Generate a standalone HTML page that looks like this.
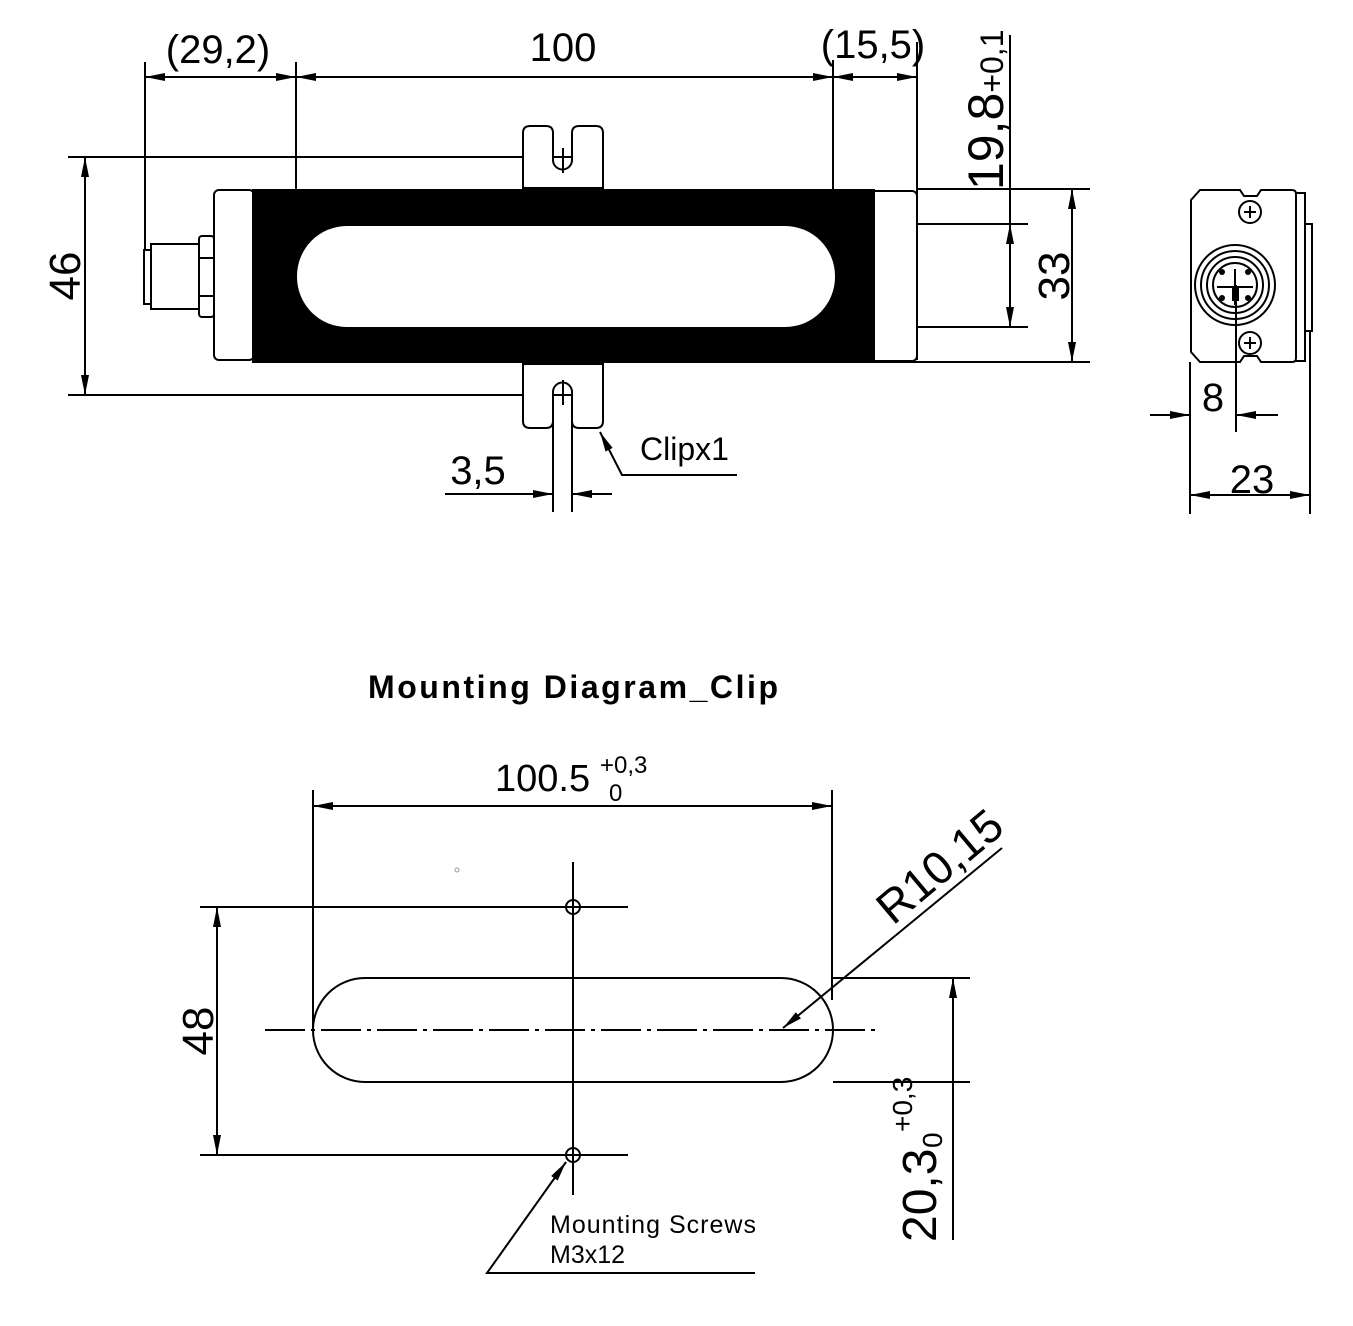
<!DOCTYPE html>
<html><head><meta charset="utf-8"><style>
html,body{margin:0;padding:0;background:#fff;}
svg{display:block;font-family:"Liberation Sans",sans-serif;}
</style></head><body>
<svg width="1353" height="1326" viewBox="0 0 1353 1326" xmlns="http://www.w3.org/2000/svg">
<defs>
<marker id="a" viewBox="0 0 20 8" refX="20" refY="4" markerWidth="20" markerHeight="8" markerUnits="userSpaceOnUse" orient="auto-start-reverse"><path d="M0,0 L20,4 L0,8 Z" fill="#000"/></marker>
</defs>
<g stroke="#000" stroke-width="2" fill="none">
<line x1="145" y1="62" x2="145" y2="250"/>
<line x1="296" y1="62" x2="296" y2="192"/>
<line x1="833" y1="60" x2="833" y2="192"/>
<line x1="917" y1="42" x2="917" y2="360"/>
<line x1="145" y1="77" x2="296" y2="77" marker-start="url(#a)" marker-end="url(#a)"/>
<line x1="296" y1="77" x2="833" y2="77" marker-start="url(#a)" marker-end="url(#a)"/>
<line x1="833" y1="77" x2="917" y2="77" marker-start="url(#a)" marker-end="url(#a)"/>
<line x1="68" y1="157" x2="578" y2="157"/>
<line x1="68" y1="395" x2="578" y2="395"/>
<line x1="85" y1="157" x2="85" y2="395" marker-start="url(#a)" marker-end="url(#a)"/>
<path d="M523,188 V133 Q523,126 530,126 H546 Q553,126 553,133 V160 A9.5,9.5 0 0 0 572,160 V133 Q572,126 579,126 H596 Q603,126 603,133 V188 Z" fill="#fff"/>
<path d="M523,364 V421 Q523,428 530,428 H546 Q553,428 553,421 V392 A9.5,9.5 0 0 1 572,392 V421 Q572,428 579,428 H596 Q603,428 603,421 V364 Z" fill="#fff"/>
<line x1="563" y1="148" x2="563" y2="173"/>
<line x1="563" y1="380" x2="563" y2="405"/>
<line x1="553" y1="400" x2="553" y2="512"/>
<line x1="572" y1="400" x2="572" y2="512"/>
<line x1="445" y1="494" x2="553" y2="494" marker-end="url(#a)"/>
<line x1="612" y1="494" x2="572" y2="494" marker-end="url(#a)"/>
<polyline points="737,475 622,475 600,432" marker-end="url(#a)"/>
<line x1="917" y1="189" x2="1090" y2="189"/>
<line x1="873" y1="362" x2="1090" y2="362"/>
<line x1="880" y1="224" x2="1028" y2="224"/>
<line x1="880" y1="327" x2="1028" y2="327"/>
<line x1="1072" y1="189" x2="1072" y2="362" marker-start="url(#a)" marker-end="url(#a)"/>
<line x1="1010" y1="35" x2="1010" y2="224"/>
<line x1="1010" y1="224" x2="1010" y2="327" marker-start="url(#a)" marker-end="url(#a)"/>
</g>
<rect x="214" y="190" width="40" height="170" rx="5" fill="#fff" stroke="#000" stroke-width="2"/>
<rect x="870" y="191" width="47" height="170" rx="5" fill="#fff" stroke="#000" stroke-width="2"/>
<rect x="252" y="189" width="623" height="174" fill="#000"/>
<rect x="297" y="226" width="538" height="101" rx="50" fill="#fff"/>
<g fill="#fff" stroke="#000" stroke-width="2">
<rect x="144" y="250" width="8" height="54"/>
<rect x="151" y="244" width="48" height="65"/>
<rect x="199" y="236" width="15" height="81" rx="3"/>
<line x1="199" y1="258" x2="214" y2="258"/><line x1="199" y1="296" x2="214" y2="296"/>
</g>
<g stroke="#000" stroke-width="2" fill="#fff">
<rect x="1293" y="193" width="12" height="168"/>
<rect x="1305" y="224" width="7" height="107"/>
<path d="M1200,190 H1240 L1244,196 H1257 L1261,190 H1292 Q1296,190 1296,194 V358 Q1296,362 1292,362 H1261 L1257,356 H1244 L1240,362 H1200 L1191,352 V200 Z"/>
<circle cx="1235" cy="285" r="40"/>
<circle cx="1235" cy="285" r="34"/>
<circle cx="1235" cy="285" r="28"/>
<circle cx="1235" cy="285" r="22"/>
<circle cx="1250" cy="212" r="11"/>
<circle cx="1250" cy="343" r="11"/>
</g>
<g fill="#000"><circle cx="1222" cy="272" r="3"/><circle cx="1248" cy="272" r="3"/><circle cx="1222" cy="298" r="3"/><circle cx="1248" cy="298" r="3"/><rect x="1232" y="287" width="7" height="14"/></g>
<g stroke="#000" stroke-width="2" fill="none">
<path d="M1244,212 h12 M1250,206 v12 M1244,343 h12 M1250,337 v12"/>
<path d="M1217,287 h36 M1235,269 v36"/>
<line x1="1236" y1="285" x2="1236" y2="432"/>
<line x1="1150" y1="415" x2="1190" y2="415" marker-end="url(#a)"/>
<line x1="1278" y1="415" x2="1236" y2="415" marker-end="url(#a)"/>
<line x1="1190" y1="362" x2="1190" y2="514"/>
<line x1="1310" y1="331" x2="1310" y2="514"/>
<line x1="1190" y1="495" x2="1310" y2="495" marker-start="url(#a)" marker-end="url(#a)"/>
</g>
<g font-size="40" fill="#000">
<text x="218" y="63" text-anchor="middle">(29,2)</text>
<text x="563" y="61" text-anchor="middle">100</text>
<text x="873" y="58" text-anchor="middle">(15,5)</text>
<text x="478" y="484" text-anchor="middle">3,5</text>
<text x="1213" y="411" text-anchor="middle">8</text>
<text x="1252" y="493" text-anchor="middle">23</text>
<text transform="translate(80,276) rotate(-90)" text-anchor="middle" font-size="44">46</text>
<text transform="translate(1069,276) rotate(-90)" text-anchor="middle" font-size="44">33</text>
<text transform="translate(1003,190) rotate(-90)" font-size="50">19,8<tspan font-size="32">+0,1</tspan></text>
</g>
<text x="640" y="460" font-size="32">Clipx1</text>
<text x="368" y="698" font-size="32" font-weight="bold" textLength="410">Mounting Diagram_Clip</text>
<text x="495" y="791" font-size="38">100.5</text>
<text x="600" y="773" font-size="24">+0,3</text>
<text x="609" y="801" font-size="24">0</text>
<g stroke="#000" stroke-width="2" fill="none">
<line x1="313" y1="790" x2="313" y2="1030"/>
<line x1="832" y1="790" x2="832" y2="1000"/>
<line x1="313" y1="806" x2="832" y2="806" marker-start="url(#a)" marker-end="url(#a)"/>
<rect x="313" y="978" width="520" height="104" rx="52"/>
<line x1="833" y1="978" x2="970" y2="978"/>
<line x1="833" y1="1082" x2="970" y2="1082"/>
<line x1="953" y1="978" x2="953" y2="1240" marker-start="url(#a)"/>
<line x1="265" y1="1030" x2="880" y2="1030" stroke-dasharray="40,6,4,6"/>
<line x1="573" y1="862" x2="573" y2="1195"/>
<circle cx="573" cy="907" r="7"/>
<circle cx="573" cy="1155" r="7"/>
<line x1="200" y1="907" x2="628" y2="907"/>
<line x1="200" y1="1155" x2="628" y2="1155"/>
<line x1="217" y1="907" x2="217" y2="1155" marker-start="url(#a)" marker-end="url(#a)"/>
<line x1="1002" y1="848" x2="783" y2="1028" marker-end="url(#a)"/>
<polyline points="755,1273 487,1273 566,1162" marker-end="url(#a)"/>
<circle cx="457" cy="870" r="2" stroke="#999" stroke-width="1"/>
</g>
<g font-size="40" fill="#000">
<text transform="translate(213,1031) rotate(-90)" text-anchor="middle" font-size="44">48</text>
<text transform="translate(893,926) rotate(-40)" font-size="46">R10,15</text>
<text transform="translate(936,1242) rotate(-90)" font-size="48">20,3</text>
</g>
<text transform="translate(912,1132) rotate(-90)" font-size="28">+0,3</text>
<text transform="translate(942,1148) rotate(-90)" font-size="28">0</text>
<text x="550" y="1233" font-size="25" textLength="206">Mounting Screws</text>
<text x="550" y="1263" font-size="25">M3x12</text>
</svg>
</body></html>
